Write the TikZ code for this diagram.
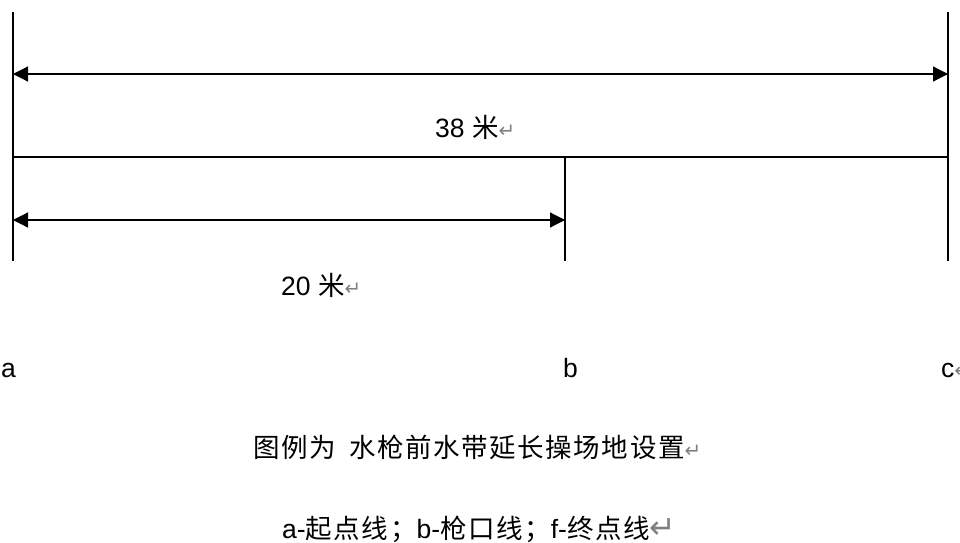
\documentclass[tikz,border=0pt]{standalone}
\usepackage{fontspec}
\setmainfont{Liberation Sans}
\newfontfamily\cjk[LetterSpace=6]{Noto Sans CJK SC}
\newfontfamily\symf{DejaVu Sans}
\usetikzlibrary{arrows.meta}
\newcommand{\zh}[1]{{\cjk #1}}
\newcommand{\pmark}{{\symf\color{gray}\scalebox{0.75}{↵}}}
\newcommand{\bigpmark}{{\symf\color{gray}\scalebox{1.2}{↵}}}
\tikzstyle{bound}=[line width=2pt]
\tikzstyle{ground}=[line width=1.6pt]
\tikzstyle{dimarrow}=[line width=1.2pt,{Triangle[length=15pt,width=15pt]}-{Triangle[length=15pt,width=15pt]}]
\tikzstyle{lbl}=[font=\fontsize{26.5}{30}\selectfont,inner sep=0pt,anchor=base west]

\begin{document}
\begin{tikzpicture}[x=1pt,y=-1pt]
	\useasboundingbox (0,0) rectangle (960,542);
	\coordinate (Atop) at (13,12);
	\coordinate (Abot) at (13,261);
	\coordinate (Ctop) at (948,12);
	\coordinate (Cbot) at (948,261);
	\coordinate (Bmid) at (565,157);
	\coordinate (Bbot) at (565,261);
	\coordinate (Amid) at (13,157);
	\coordinate (Cmid) at (948,157);
	\coordinate (Aup) at (13,74);
	\coordinate (Cup) at (948,74);
	\coordinate (Alow) at (13,220);
	\coordinate (Blow) at (565,220);
	\draw[bound] (Atop)--(Abot);
	\draw[bound] (Ctop)--(Cbot);
	\draw[bound] (Bmid)--(Bbot);
	\draw[ground] (Amid)--(Cmid);

	\draw[dimarrow] (Aup)--(Cup);
	\draw[dimarrow] (Alow)--(Blow);

	\node[lbl] (longlen) at (435,137) {38 \zh{米}\pmark};
	\node[lbl] (shortlen) at (281,295) {20 \zh{米}\pmark};
	\node[lbl] (la) at (1,377) {a};
	\node[lbl] (lb) at (563,377) {b};
	\node[lbl] (lc) at (941,377) {c\pmark};
	\node[lbl] (title) at (253,457) {\zh{图例为\hspace{0.5em}水枪前水带延长操场地设置}\pmark};
	\node[lbl] (legend) at (282,538) {a-\zh{起点线；}b-\zh{枪口线；}f-\zh{终点线}\bigpmark};
\end{tikzpicture}
\end{document}
